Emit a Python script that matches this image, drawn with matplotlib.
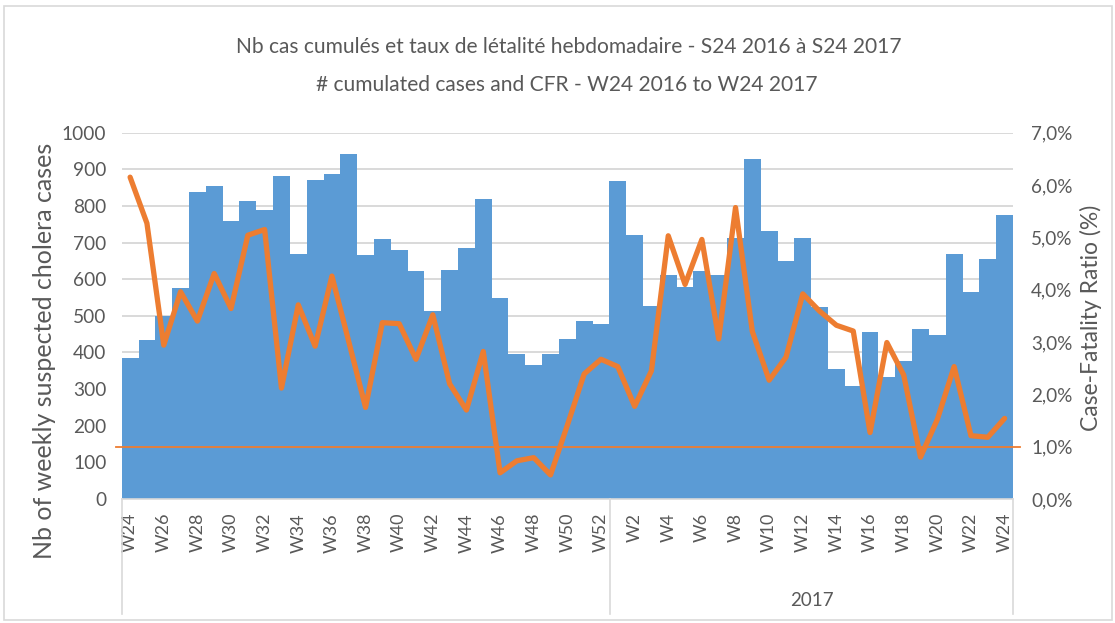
import matplotlib
matplotlib.use("Agg")
import matplotlib.pyplot as plt
from matplotlib.lines import Line2D
from matplotlib.patches import Rectangle
from matplotlib.ticker import FuncFormatter
import numpy as np

plt.rcParams['font.family'] = ['Lato', 'DejaVu Sans']

weeks_2016 = [f"W{w}" for w in range(24, 53)]
weeks_2017 = [f"W{w}" for w in range(1, 25)]
weeks = weeks_2016 + weeks_2017

cases = [385, 434, 500, 575, 838, 855, 758, 813, 790, 881,
         670, 870, 888, 943, 666, 710, 681, 622, 513, 626,
         686, 818, 549, 397, 367, 395, 436, 487, 477,
         869, 720, 527, 611, 580, 622, 611, 713, 927, 731,
         651, 713, 523, 356, 309, 455, 332, 378, 463, 448,
         669, 564, 655, 775]

cfr = [6.15, 5.27, 2.94, 3.96, 3.40, 4.31, 3.64, 5.04, 5.15, 2.12,
       3.71, 2.92, 4.26, 3.01, 1.75, 3.37, 3.35, 2.67, 3.52, 2.20,
       1.70, 2.82, 0.50, 0.73, 0.79, 0.46, 1.41, 2.39, 2.67,
       2.53, 1.77, 2.45, 5.03, 4.10, 4.96, 3.06, 5.57, 3.20, 2.27,
       2.71, 3.92, 3.59, 3.32, 3.21, 1.27, 2.99, 2.37, 0.80, 1.52,
       2.53, 1.21, 1.18, 1.54]

threshold = 1.0
year_label = "2017"
title1 = "Nb cas cumulés et taux de létalité hebdomadaire - S24 2016 à S24 2017"
title2 = "# cumulated cases and CFR - W24 2016 to W24 2017"

W, H = 1115, 623
GRAY = '#595959'
GRID = '#D9D9D9'
BLUE = '#5B9BD5'
ORANGE = '#ED7D31'

fig = plt.figure(figsize=(W / 100, H / 100), dpi=100)

def fx(px):
    return px / W

def fy(py):
    return 1 - py / H

x_left, x_right, y_top, y_bot = 121.7, 1013.0, 132.7, 499.0
ax = fig.add_axes([fx(x_left), fy(y_bot), fx(x_right - x_left), (y_bot - y_top) / H])

x = np.arange(len(cases))
ax.bar(x, cases, width=1.0, color=BLUE, zorder=2, linewidth=0)
ax.set_xlim(-0.5, len(cases) - 0.5)
ax.set_ylim(0, 1000)
ax.set_yticks(range(0, 1001, 100))
ax.yaxis.grid(True, color=GRID, linewidth=1.4)
ax.set_axisbelow(True)
for s in ['top', 'left', 'right']:
    ax.spines[s].set_visible(False)
ax.spines['bottom'].set_color(GRID)
ax.spines['bottom'].set_linewidth(1.2)
ax.set_xticks(x[::2])
ax.set_xticklabels(weeks[::2], rotation=90, va='top', ha='center')
ax.tick_params(axis='x', length=0, pad=10, labelsize=13, labelcolor=GRAY)
ax.tick_params(axis='y', length=0, pad=11, labelsize=13.8, labelcolor=GRAY)

ax2 = ax.twinx()
ax2.plot(x, cfr, color=ORANGE, linewidth=3.8, zorder=3, solid_joinstyle='round', solid_capstyle='round')
ax2.axhline(threshold, xmin=-0.006, xmax=1.008, color=ORANGE, linewidth=1.3, clip_on=False, zorder=3)
ax2.set_ylim(0, 7)
ax2.set_yticks(np.arange(0, 7.01, 1.0))
ax2.yaxis.set_major_formatter(FuncFormatter(lambda v, p: f"{v:.1f}%".replace('.', ',')))
ax2.tick_params(axis='y', length=0, pad=13, labelsize=13.6, labelcolor=GRAY)
for s in ['top', 'left', 'right', 'bottom']:
    ax2.spines[s].set_visible(False)

# category group separators
for px in [x_left, 610.0, x_right]:
    fig.add_artist(Line2D([fx(px), fx(px)], [fy(y_bot), fy(614)], color=GRID, linewidth=1.2))
fig.text(fx(812), fy(600), year_label, ha='center', va='center', fontsize=13.5, color=GRAY)

fig.text(fx(569), fy(47), title1, ha='center', va='center', fontsize=15.1, color=GRAY)
fig.text(fx(567), fy(85), title2, ha='center', va='center', fontsize=15.1, color=GRAY)

fig.text(fx(45), fy(351), "Nb of weekly suspected cholera cases", rotation=90,
         ha='center', va='center', fontsize=18, color=GRAY)
fig.text(fx(1091), fy(318), "Case-Fatality Ratio (%)", rotation=90,
         ha='center', va='center', fontsize=16.5, color=GRAY)

fig.add_artist(Rectangle((fx(4), fy(620)), fx(1108), (620 - 6) / H, fill=False,
                         edgecolor=GRID, linewidth=1.2))

fig.savefig("out.png", dpi=100)
